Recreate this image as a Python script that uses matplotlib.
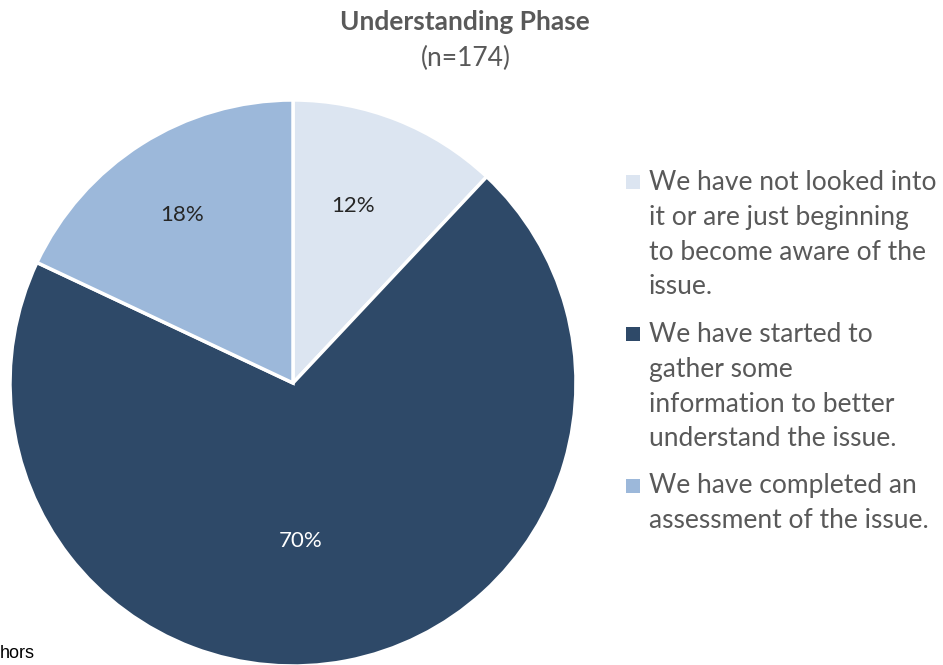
import numpy as np
import matplotlib
matplotlib.use("Agg")
import matplotlib.pyplot as plt
from matplotlib.patches import Rectangle

categories = [
    "We have not looked into\nit or are just beginning\nto become aware of the\nissue.",
    "We have started to\ngather some\ninformation to better\nunderstand the issue.",
    "We have completed an\nassessment of the issue.",
]
values = [12, 70, 18]
colors = ["#DCE5F1", "#2E4968", "#9CB8DA"]
label_colors = ["#262626", "#FFFFFF", "#262626"]
label_dist = [0.66, 0.56, 0.71]
label_angle_shift = [3, -8, 1]
title = "Understanding Phase"
subtitle = "(n=174)"
source = "hors"

W, H = 943, 665
fig = plt.figure(figsize=(W / 100, H / 100), dpi=100)
plt.rcParams['font.family'] = ['Lato', 'DejaVu Sans']

cx, cy, R = 293, 383, 283
ax = fig.add_axes([(cx - R) / W, (H - cy - R) / H, 2 * R / W, 2 * R / H])
wedges, texts, autotexts = ax.pie(
    values, colors=colors, startangle=90, counterclock=False, radius=1,
    autopct=lambda p: f"{p:.0f}%", pctdistance=0.65,
    wedgeprops=dict(edgecolor="white", linewidth=2.5),
    textprops=dict(fontsize=16),
)
for w, t, c, d, s in zip(wedges, autotexts, label_colors, label_dist,
                         label_angle_shift):
    t.set_color(c)
    mid = np.deg2rad((w.theta1 + w.theta2) / 2 + s)
    t.set_position((d * np.cos(mid), d * np.sin(mid)))
ax.set_xlim(-1, 1)
ax.set_ylim(-1, 1)
ax.set_aspect("equal")
ax.axis("off")

gray = "#595959"
fig.text(465 / W, 1 - 22 / H, title, ha="center", va="center",
         fontsize=19, fontweight="bold", color=gray)
fig.text(466 / W, 1 - 58 / H, subtitle, ha="center", va="center",
         fontsize=19, color=gray)

# legend
y0 = 182
for lab, col in zip(categories, colors):
    lines = lab.split("\n")
    fig.patches.append(Rectangle((626 / W, 1 - (y0 + 7) / H), 14 / W, 14 / H,
                                 transform=fig.transFigure, facecolor=col,
                                 edgecolor="none"))
    for j, ln in enumerate(lines):
        fig.text(649 / W, 1 - (y0 + 35 * j) / H, ln, ha="left", va="center",
                 fontsize=19, color=gray)
    y0 += len(lines) * 35 + 12

fig.text(0, 1 - 654 / H, source, ha="left", va="center", fontsize=13,
         color="black", family=["Liberation Sans", "DejaVu Sans"])

fig.savefig("out.png", dpi=100)
